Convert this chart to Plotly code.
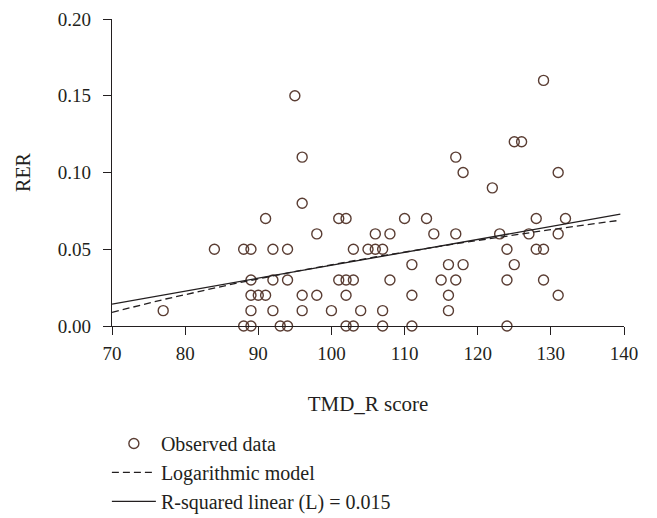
import numpy as np
import plotly.graph_objects as go

tmd_r_score = [77, 84, 88, 89, 92, 94, 91, 96, 89, 92, 94, 89, 90, 91, 96, 89, 92, 96,
               88, 89, 93, 94, 95, 96, 117, 118, 122, 129, 125, 126, 131, 128, 132,
               123, 127, 131, 124, 128, 129, 125, 124, 129, 131, 124,
               101, 102, 110, 113, 98, 106, 108, 114, 117, 103, 105, 106, 107,
               111, 116, 118, 101, 102, 103, 108, 115, 117, 98, 102, 111, 116,
               100, 104, 107, 116, 102, 103, 107, 111]
rer = [0.01, 0.05, 0.05, 0.05, 0.05, 0.05, 0.07, 0.08, 0.03, 0.03, 0.03, 0.02, 0.02, 0.02, 0.02, 0.01, 0.01, 0.01,
       0.00, 0.00, 0.00, 0.00, 0.15, 0.11, 0.11, 0.10, 0.09, 0.16, 0.12, 0.12, 0.10, 0.07, 0.07,
       0.06, 0.06, 0.06, 0.05, 0.05, 0.05, 0.04, 0.03, 0.03, 0.02, 0.00,
       0.07, 0.07, 0.07, 0.07, 0.06, 0.06, 0.06, 0.06, 0.06, 0.05, 0.05, 0.05, 0.05,
       0.04, 0.04, 0.04, 0.03, 0.03, 0.03, 0.03, 0.03, 0.03, 0.02, 0.02, 0.02, 0.02,
       0.01, 0.01, 0.01, 0.01, 0.00, 0.00, 0.00, 0.00]

# Model coefficients
linear_intercept_at_70 = 0.0143
linear_slope = 0.000842
log_a = -0.3607
log_b = 0.0870
fit_x_start = 70
fit_x_end = 139.5

x_ticks = [70, 80, 90, 100, 110, 120, 130, 140]
y_ticks = [0.00, 0.05, 0.10, 0.15, 0.20]

legend_names = ["Observed data", "Logarithmic model", "R-squared linear (L) = 0.015"]

FONT = "Liberation Serif"
INK = "#231f20"
MARK = "#5a3d33"

xf = np.linspace(fit_x_start, fit_x_end, 200)
y_lin = linear_intercept_at_70 + linear_slope * (xf - 70)
y_log = log_a + log_b * np.log(xf)

fig = go.Figure()
fig.add_trace(go.Scatter(
    x=tmd_r_score, y=rer, mode="markers", name=legend_names[0],
    marker=dict(symbol="circle-open", size=10, color=MARK, line=dict(width=1.4, color=MARK)),
    cliponaxis=False,
))
fig.add_trace(go.Scatter(
    x=xf, y=y_log, mode="lines", name=legend_names[1],
    line=dict(color=INK, width=1.3, dash="7px,4px"),
))
fig.add_trace(go.Scatter(
    x=xf, y=y_lin, mode="lines", name=legend_names[2],
    line=dict(color=INK, width=1.3),
))

axis_common = dict(
    showline=True, linecolor=INK, linewidth=1.3, showgrid=False, zeroline=False,
    ticks="outside", ticklen=8, tickwidth=1.3, tickcolor=INK,
    tickfont=dict(family=FONT, size=19, color=INK),
)

fig.update_layout(
    width=657, height=518,
    margin=dict(l=112, r=33, t=19, b=192, autoexpand=False),
    paper_bgcolor="white", plot_bgcolor="white",
    font=dict(family=FONT, size=19, color=INK),
    xaxis=dict(range=[70, 140], tickvals=x_ticks, ticklabelstandoff=2, automargin=False,
               title=dict(text="TMD_R score", font=dict(family=FONT, size=21, color=INK), standoff=33),
               **axis_common),
    yaxis=dict(range=[0, 0.20], tickvals=y_ticks, tickformat=".2f", ticklabelstandoff=8, automargin=False,
               title=dict(text="RER", font=dict(family=FONT, size=20, color=INK), standoff=21),
               **axis_common),
    showlegend=True,
    legend=dict(x=-0.01, xanchor="left", y=-0.319, yanchor="top",
                font=dict(family=FONT, size=20, color=INK),
                bgcolor="rgba(0,0,0,0)", itemwidth=44, traceorder="normal",
                tracegroupgap=0),
)

fig.write_html("out.html")
